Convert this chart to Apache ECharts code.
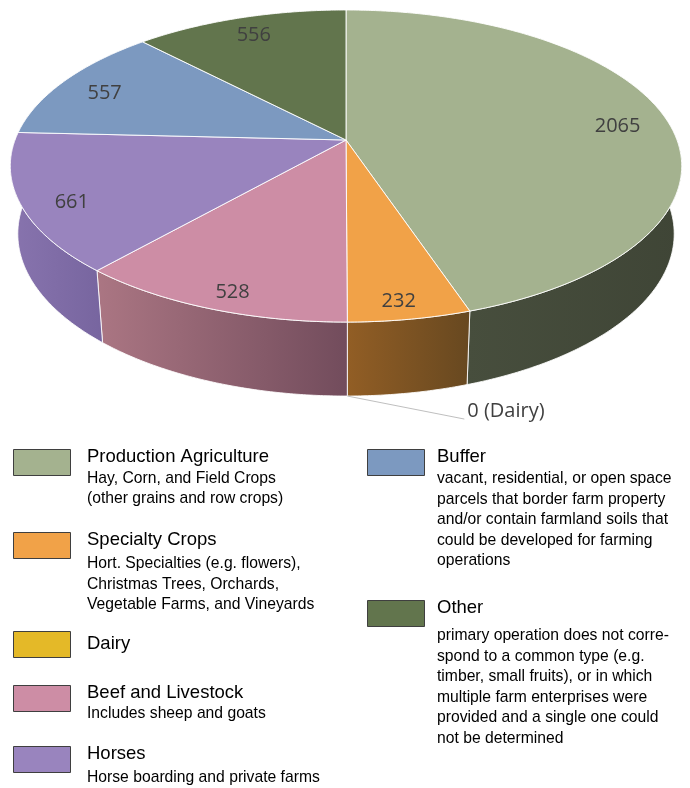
<!DOCTYPE html>
<html><head><meta charset="utf-8">
<script src="https://cdn.jsdelivr.net/npm/echarts@6/dist/echarts.min.js"></script>
<style>html,body{margin:0;padding:0;background:#fff}#c{width:690px;height:788px}</style>
</head><body><div id="c"></div>
<script>
// ---- data ----
const categories = ['Production Agriculture','Specialty Crops','Dairy','Beef and Livestock','Horses','Buffer','Other'];
const values = [2065, 232, 0, 528, 661, 557, 556];
const descriptions = [
  ['Hay, Corn, and Field Crops','(other grains and row crops)'],
  ['Hort. Specialties (e.g. flowers),','Christmas Trees, Orchards,','Vegetable Farms, and Vineyards'],
  [],
  ['Includes sheep and goats'],
  ['Horse boarding and private farms'],
  ['vacant, residential, or open space','parcels that border farm property','and/or contain farmland soils that','could be developed for farming','operations'],
  ['primary operation does not corre-','spond to a common type (e.g.','timber, small fruits), or in which','multiple farm enterprises were','provided and a single one could','not be determined']
];

// ---- styles ----
const topColors = ['#a4b28f','#f1a248','#e4b928','#cd8da5','#9984be','#7c99c0','#62754d'];
const wallColors = [
  ['#474e3d','#3f4536'],
  ['#925e25','#674820'],
  ['#8c7320','#6c5818'],
  ['#ab7683','#724c5c'],
  ['#8874ae','#77659f'],
  ['#5b7393','#4b607c'],
  ['#4a5a3b','#3d4a31']
];
// ---- layout (3D projection of the pie) ----
const G = {cx:346, cy:140, a:331, b:151.7, k:0.1667, cyB:206.8, aB:323.6, bB:157.7};
function proj(theta, f, bottom){
  const u = f*Math.sin(theta), v = f*Math.cos(theta);
  const w = 1 + G.k*v;
  if (bottom) return [G.cx + G.aB*u/w, G.cyB - G.bB*v/w];
  return [G.cx + G.a*u/w, G.cy - G.b*v/w];
}
const total = values.reduce((s,v)=>s+v,0);
const starts = [];
values.reduce((acc,v)=>{starts.push(acc); return acc + v/total*2*Math.PI;}, 0);
const TAU = 2*Math.PI;
function arc(s, e, bottom){
  const n = Math.max(2, Math.ceil((e-s)/(Math.PI/360)));
  const pts = [];
  for (let j=0;j<=n;j++) pts.push(proj(s+(e-s)*j/n, 1, bottom));
  return pts;
}
function sliceRange(i, v){ const s = starts[i]; return [s, s + v/total*TAU]; }

function wallItem(params, api){
  const i = params.dataIndex, v = api.value(0);
  const [s,e] = sliceRange(i, v);
  const lo = Math.max(s, Math.PI/2), hi = Math.min(e, 1.5*Math.PI);
  if (!(hi > lo)) return {type:'group', children:[]};
  const pts = arc(lo, hi, false).concat(arc(lo, hi, true).reverse());
  return {type:'polygon', shape:{points:pts},
    style:{fill:new echarts.graphic.LinearGradient(0,0,1,0,[{offset:0,color:wallColors[i][0]},{offset:1,color:wallColors[i][1]}]),
      stroke:'rgba(255,255,255,0.85)', lineWidth:1}};
}
function topItem(params, api){
  const i = params.dataIndex, v = api.value(0);
  if (!v) return {type:'group', children:[]};
  const [s,e] = sliceRange(i, v);
  const pts = [proj(0,0,false)].concat(arc(s, e, false));
  return {type:'polygon', shape:{points:pts},
    style:{fill:topColors[i], stroke:'rgba(255,255,255,0.9)', lineWidth:1}};
}
const labelFont = {fontFamily:'Open Sans', fontSize:20, fill:'#404040'};
function labelItem(params, api){
  const i = params.dataIndex, v = api.value(0);
  const [s,e] = sliceRange(i, v);
  if (!v) {
    const p = proj(s, 1, true);
    return {type:'group', children:[
      {type:'line', shape:{x1:p[0], y1:p[1], x2:p[0]+117, y2:p[1]+23}, style:{stroke:'#bfbfbf', lineWidth:1}},
      {type:'text', x:p[0]+120, y:p[1]+15.5, style:Object.assign({text: v + ' (' + categories[i] + ')', align:'left', verticalAlign:'middle'}, labelFont)}
    ]};
  }
  const m = (s+e)/2;
  const p = proj(m, 0.85, false);
  return {type:'text', x:p[0], y:p[1] + 7 - 6*Math.cos(m), style:Object.assign({text:String(v), align:'center', verticalAlign:'middle'}, labelFont)};
}

// ---- legend layout ----
const legendCols = [{boxX:13, textX:87}, {boxX:367, textX:437}];
const legendLayout = [
  {col:0, top:449, desc:29.5},
  {col:0, top:532, desc:32},
  {col:0, top:631, desc:0},
  {col:0, top:685, desc:28.5},
  {col:0, top:746, desc:31.5},
  {col:1, top:449, desc:30},
  {col:1, top:600, desc:36}
];
const graphics = [];
categories.forEach((name, i) => {
  const L = legendLayout[i], C = legendCols[L.col];
  graphics.push({type:'rect', shape:{x:C.boxX+0.5, y:L.top+0.5, width:57, height:26},
    style:{fill:topColors[i], stroke:'#3f3f3f', lineWidth:1}});
  const hasDesc = descriptions[i].length > 0;
  graphics.push({type:'text', x:C.textX, y: hasDesc ? L.top+7.5 : L.top+13,
    style:{text:name, fontFamily:'Liberation Sans', fontSize:18.5, fill:'#000', align:'left', verticalAlign:'middle'}});
  descriptions[i].forEach((line, j) => {
    graphics.push({type:'text', x:C.textX, y:L.top + L.desc + j*20.5,
      style:{text:line, fontFamily:'Liberation Sans', fontSize:15.7, fill:'#000', align:'left', verticalAlign:'middle'}});
  });
});

const seriesData = values.map((v,i)=>[v,i]);
const chart = echarts.init(document.getElementById('c'), null, {renderer:'canvas'});
chart.setOption({
  animation:false,
  backgroundColor:'#fff',
  series:[
    {type:'custom', coordinateSystem:'none', z:1, data:seriesData, renderItem:wallItem, silent:true},
    {type:'custom', coordinateSystem:'none', z:2, data:seriesData, renderItem:topItem, silent:true},
    {type:'custom', coordinateSystem:'none', z:3, data:seriesData, renderItem:labelItem, silent:true}
  ],
  graphic: graphics
});
</script>
</body></html>
